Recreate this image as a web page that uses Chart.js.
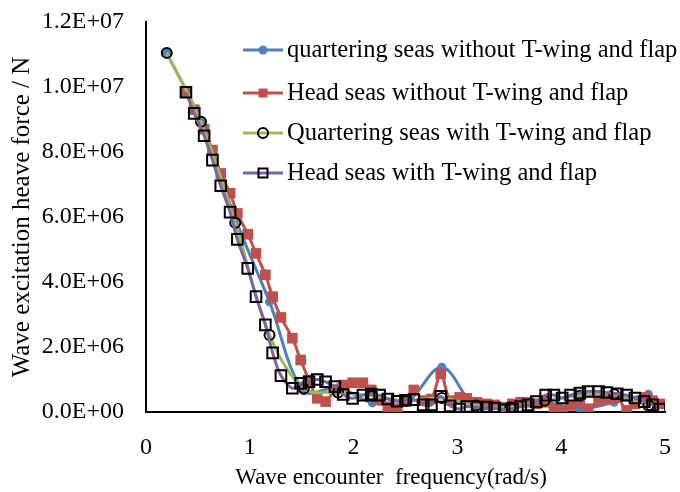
<!DOCTYPE html>
<html>
<head>
<meta charset="utf-8">
<script src="https://cdn.jsdelivr.net/npm/chart.js@4.4.1/dist/chart.umd.min.js"></script>
<style>
  html, body { margin: 0; padding: 0; background: #ffffff; }
  #wrap { width: 680px; height: 492px; }
</style>
</head>
<body>
<div id="wrap"><canvas id="c" width="680" height="492"></canvas></div>
<script>
// Encounter frequencies (rad/s)
const headFreq = [0.385,0.465,0.56,0.64,0.72,0.81,0.88,0.98,1.06,1.15,1.22,1.30,1.41,1.49,1.57,1.65,1.73,1.82,1.90,1.99,
  2.09,2.17,2.25,2.33,2.42,2.50,2.58,2.67,2.75,2.84,2.93,3.02,3.09,3.19,3.28,3.36,3.45,3.53,3.61,3.68,
  3.76,3.85,3.93,4.01,4.09,4.18,4.26,4.36,4.44,4.54,4.63,4.71,4.80,4.88,4.95];
const quarterFreq = [0.2,0.53,0.86,1.19,1.52,1.85,2.18,2.51,2.85,3.18,3.51,3.84,4.18,4.51,4.84];

// Heave excitation force (N), in units of 1E+06
const quarterWithout = [11.05,8.93,5.95,3.39,0.65,0.75,0.28,0.30,1.38,0.15,0.20,0.30,0.10,0.30,0.55];
const headWithout = [9.84,9.30,8.70,8.06,7.34,6.73,6.11,5.47,4.88,4.22,
  3.55,2.91,2.27,1.60,0.98,0.42,0.32,0.68,0.83,0.90,
  0.90,0.68,0.37,0.16,0.10,0.35,0.68,0.35,0.40,1.17,
  0.35,0.45,0.42,0.30,0.25,0.22,0.15,0.25,0.30,0.30,
  0.25,0.30,0.10,0.05,0.20,0.30,0.10,0.35,0.40,0.45,
  0.05,0.25,0.45,0.35,0.25];
const quarterWith = [11.05,8.93,5.82,2.37,0.72,0.60,0.50,0.35,0.43,0.20,0.15,0.35,0.50,0.55,0.20];
const headWith = [9.84,9.19,8.50,7.75,6.96,6.15,5.31,4.42,3.55,2.68,
  1.82,1.12,0.73,0.88,0.93,1.00,0.93,0.78,0.54,0.42,
  0.52,0.55,0.52,0.40,0.33,0.36,0.38,0.22,0.22,0.48,
  0.19,0.09,0.17,0.15,0.15,0.12,0.07,0.09,0.17,0.22,
  0.32,0.52,0.52,0.43,0.52,0.58,0.63,0.63,0.60,0.56,
  0.52,0.43,0.32,0.22,0.09];

const seriesNames = [
  'quartering seas without T-wing and flap',
  'Head seas without T-wing and flap',
  'Quartering seas with T-wing and flap',
  'Head seas with T-wing and flap'
];
const yTicks = [0, 2e6, 4e6, 6e6, 8e6, 1e7, 1.2e7];
const xTicks = [0, 1, 2, 3, 4, 5];

const SCALE = 1e6;
const toPoints = (xs, ys) => xs.map((x, i) => ({ x: x, y: ys[i] * SCALE }));

const FONT = "'Liberation Serif', 'Times New Roman', serif";

function sci(v) {
  const parts = Number(v).toExponential(1).split('e');
  const e = parseInt(parts[1], 10);
  return parts[0] + 'E' + (e < 0 ? '-' : '+') + String(Math.abs(e)).padStart(2, '0');
}

// Keep the plot box fixed: no extra room reserved for overhanging tick labels
function clearOverhang(s) {
  s.paddingTop = 0; s.paddingBottom = 0; s.paddingLeft = 0; s.paddingRight = 0;
}

// Legend drawn inside the plot area, top right
const insideLegend = {
  id: 'insideLegend',
  afterDraw(chart) {
    const ctx = chart.ctx;
    const x0 = 243, x1 = 283, tx = 287;
    const rows = [50, 93, 133, 173];
    ctx.save();
    chart.data.datasets.forEach((ds, i) => {
      const y = rows[i];
      ctx.strokeStyle = ds.borderColor;
      ctx.lineWidth = ds.borderWidth;
      ctx.beginPath();
      ctx.moveTo(x0, y);
      ctx.lineTo(x1, y);
      ctx.stroke();
      const mx = (x0 + x1) / 2;
      ctx.fillStyle = ds.pointBackgroundColor;
      ctx.strokeStyle = ds.pointBorderColor;
      ctx.lineWidth = ds.pointBorderWidth;
      ctx.beginPath();
      if (ds.pointStyle === 'rect') {
        const r = ds.pointRadius * 0.6;
        ctx.rect(mx - r, y - r, 2 * r, 2 * r);
      } else {
        ctx.arc(mx, y, ds.pointRadius, 0, Math.PI * 2);
      }
      if (ds.pointBackgroundColor !== 'rgba(0,0,0,0)') ctx.fill();
      if (ds.pointBorderWidth > 0) ctx.stroke();
      ctx.fillStyle = '#000000';
      ctx.font = '24.5px ' + FONT;
      ctx.textBaseline = 'middle';
      ctx.textAlign = 'left';
      ctx.fillText(ds.label, tx, y + 1);
    });
    ctx.restore();
  }
};

new Chart(document.getElementById('c'), {
  type: 'line',
  data: {
    datasets: [
      {
        label: seriesNames[0],
        data: toPoints(quarterFreq, quarterWithout),
        borderColor: '#4F81BD', borderWidth: 3,
        pointStyle: 'circle', pointRadius: 4.5,
        pointBackgroundColor: '#4F81BD', pointBorderColor: '#4F81BD', pointBorderWidth: 0,
        tension: 0.35, order: 3
      },
      {
        label: seriesNames[1],
        data: toPoints(headFreq, headWithout),
        borderColor: '#C0504D', borderWidth: 3,
        pointStyle: 'rect', pointRadius: 7.5,
        pointBackgroundColor: '#C0504D', pointBorderColor: '#C0504D', pointBorderWidth: 0,
        tension: 0.35, order: 2
      },
      {
        label: seriesNames[2],
        data: toPoints(quarterFreq, quarterWith),
        borderColor: '#9BBB59', borderWidth: 3,
        pointStyle: 'circle', pointRadius: 5,
        pointBackgroundColor: 'rgba(0,0,0,0)', pointBorderColor: '#000000', pointBorderWidth: 2,
        tension: 0.35, order: 1
      },
      {
        label: seriesNames[3],
        data: toPoints(headFreq, headWith),
        borderColor: '#8064A2', borderWidth: 3,
        pointStyle: 'rect', pointRadius: 7.5,
        pointBackgroundColor: 'rgba(0,0,0,0)', pointBorderColor: '#000000', pointBorderWidth: 2,
        tension: 0.35, order: 0
      }
    ]
  },
  options: {
    responsive: false,
    animation: false,
    devicePixelRatio: 1,
    layout: { padding: { left: 0, right: 15, top: 22, bottom: 0 } },
    plugins: {
      legend: { display: false },
      tooltip: { enabled: false }
    },
    scales: {
      x: {
        type: 'linear',
        min: 0, max: 5,
        afterBuildTicks: (s) => { s.ticks = xTicks.map(v => ({ value: v })); },
        afterFit: (s) => { s.height = 80; clearOverhang(s); },
        grid: { display: false, drawTicks: false },
        border: { display: true, color: '#000000', width: 2 },
        ticks: {
          font: { family: FONT, size: 24 }, color: '#000000', padding: 21,
          maxRotation: 0, callback: (v) => String(v)
        },
        title: {
          display: true,
          text: 'Wave encounter  frequency(rad/s)     ',
          font: { family: FONT, size: 23 }, color: '#000000',
          padding: { top: 0, bottom: 0 }
        }
      },
      y: {
        type: 'linear',
        min: 0, max: 1.2e7,
        afterBuildTicks: (s) => { s.ticks = yTicks.map(v => ({ value: v })); },
        afterFit: (s) => { s.width = 146; clearOverhang(s); },
        grid: { display: false, drawTicks: false },
        border: { display: true, color: '#000000', width: 2 },
        ticks: {
          font: { family: FONT, size: 24 }, color: '#000000', padding: 22,
          callback: (v) => sci(v)
        },
        title: {
          display: true,
          text: 'Wave excitation heave force / N',
          font: { family: FONT, size: 25 }, color: '#000000',
          padding: { top: 7, bottom: 0 }
        }
      }
    }
  },
  plugins: [insideLegend]
});
</script>
</body>
</html>
